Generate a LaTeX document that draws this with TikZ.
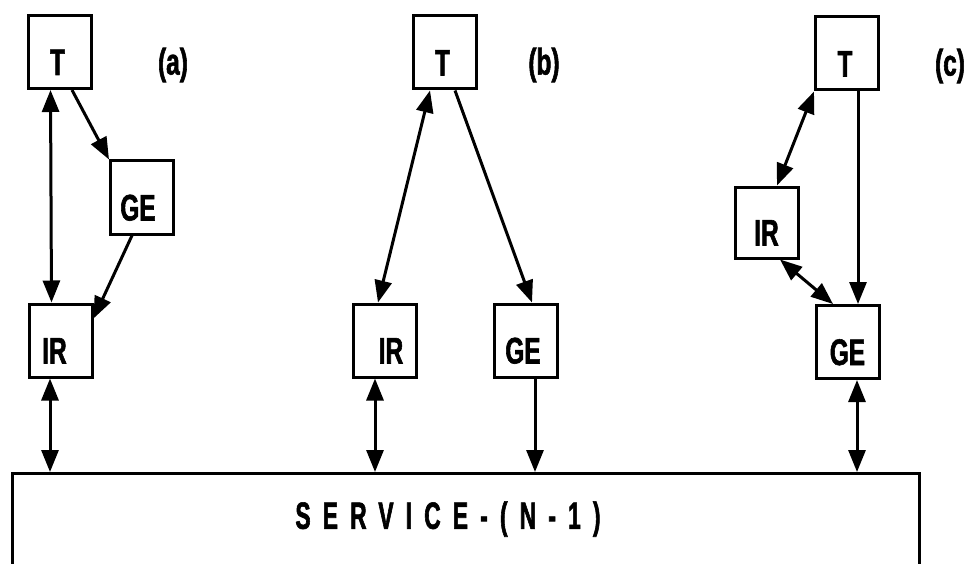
\documentclass[tikz,border=0pt]{standalone}
\usepackage{fontspec}
\setmainfont{Liberation Sans}[FakeStretch=0.66,BoldFont={Liberation Sans Bold},BoldFeatures={FakeBold=1.5}]
\newfontfamily\svcfont{Liberation Sans Bold}[FakeStretch=0.6,LetterSpace=32,FakeBold=1.5]
\usetikzlibrary{arrows.meta}
% box text sits about 10pt below the box centre
\newcommand{\boxtext}[2][0pt]{\hspace*{#1}\raisebox{-23pt}[0pt][0pt]{#2}}
\begin{document}
\begin{tikzpicture}[x=1pt,y=-1pt,
  every node/.style={font=\bfseries\fontsize{37}{37}\selectfont},
  blk/.style={draw,line width=3pt,minimum width=63pt,minimum height=73pt,inner sep=0pt},
  svcbox/.style={draw,line width=3pt,minimum width=907pt,minimum height=120pt,inner sep=0pt,anchor=north},
  lbl/.style={inner sep=0pt},
  tip/.style={Triangle[length=22pt,width=17pt]},
  link/.style={line width=3pt,-{Triangle[length=22pt,width=17pt]}},
  both/.style={line width=3pt,{Triangle[length=22pt,width=17pt]}-{Triangle[length=22pt,width=17pt]}}]
\useasboundingbox (0,0) rectangle (965,564);
\fill[white] (0,0) rectangle (965,564);

% service box along the bottom
\node[svcbox] (svc) at (465.5,472) {};
\node[lbl,font=\svcfont\fontsize{38}{38}\selectfont] (svctext) at (448,519) {SERVICE-(N-1)};

% (a)
\node[blk] (Ta) at (59.5,52) {\boxtext[-4pt]{T}};
\node[blk] (GEa) at (142,197.5) {\boxtext[-8pt]{GE}};
\node[blk] (IRa) at (60.5,340.5) {\boxtext[-12pt]{IR}};
\node[lbl] (la) at (173,65) {(a)};
\draw[both] ([xshift=-9pt]Ta.south) -- ([xshift=-9pt]IRa.north);
\draw[link] ([xshift=12.5pt]Ta.south) -- (GEa.north west);
\draw[link] ([xshift=-10pt]GEa.south) -- ([yshift=-16pt]IRa.north east);
\draw[both] ([xshift=-10.5pt]IRa.south) -- ([xshift=-10.5pt]IRa.south |- svc.north);

% (b)
\node[blk] (Tb) at (444.5,52.5) {\boxtext[-4pt]{T}};
\node[blk] (IRb) at (385,340.5) {\boxtext[12pt]{IR}};
\node[blk] (GEb) at (526,340.5) {\boxtext[-6pt]{GE}};
\node[lbl] (lb) at (544,65) {(b)};
\draw[both] ([xshift=-14.5pt]Tb.south) -- ([xshift=-7pt]IRb.north);
\draw[link] ([xshift=10.5pt]Tb.south) -- ([xshift=6pt]GEb.north);
\draw[both] ([xshift=-10pt]IRb.south) -- ([xshift=-10pt]IRb.south |- svc.north);
\draw[link] ([xshift=9pt]GEb.south) -- ([xshift=9pt]GEb.south |- svc.north);

% (c)
\node[blk] (Tc) at (847,53.5) {\boxtext[-4pt]{T}};
\node[blk,minimum height=71pt] (IRc) at (766.5,222.5) {\boxtext{IR}};
\node[blk] (GEc) at (847.5,342) {\boxtext{GE}};
\node[lbl] (lc) at (950,66) {(c)};
\draw[both] (Tc.south west) -- ([xshift=10.5pt]IRc.north);
\draw[link] ([xshift=11pt]Tc.south) -- ([xshift=10.5pt]GEc.north);
\draw[both] ([xshift=13.5pt]IRc.south) -- ([xshift=-14.5pt]GEc.north);
\draw[both] ([xshift=9.5pt]GEc.south) -- ([xshift=9.5pt]GEc.south |- svc.north);
\end{tikzpicture}
\end{document}
